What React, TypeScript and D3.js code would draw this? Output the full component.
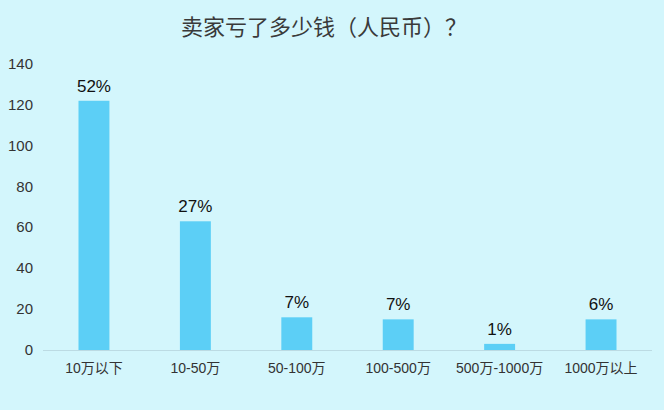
import React, { useEffect, useRef } from "react";
import * as d3 from "d3";

const categories = ["10万以下", "10-50万", "50-100万", "100-500万", "500万-1000万", "1000万以上"];
const counts = [122, 63, 16, 15, 3, 15];
const percentLabels = ["52%", "27%", "7%", "7%", "1%", "6%"];
const yTicks = [0, 20, 40, 60, 80, 100, 120, 140];
const title = "卖家亏了多少钱（人民币）？";

export default function App() {
    const ref = useRef<SVGSVGElement>(null);

    useEffect(() => {
        const svg = d3.select(ref.current);
        svg.selectAll("*").remove();
        const width = 664;
        const height = 410;
        const font = "'Liberation Sans', 'Noto Sans CJK SC', sans-serif";

        svg.append("rect")
            .attr("width", width)
            .attr("height", height)
            .attr("fill", "#d3f6fc");

        const x = d3.scaleBand().domain(categories).range([43, 652]).paddingInner(0.695).paddingOuter(0.35);
        const y = d3.scaleLinear().domain([0, 140]).range([350, 64]);

        svg.append("text")
            .attr("x", 324)
            .attr("y", 35)
            .attr("text-anchor", "middle")
            .attr("font-family", "'Noto Sans CJK SC', sans-serif")
            .attr("font-size", 22)
            .attr("fill", "#3a3a3a")
            .text(title);

        // y tick labels
        svg.append("g")
            .selectAll("text")
            .data(yTicks)
            .enter()
            .append("text")
            .attr("x", 33)
            .attr("y", (d) => y(d) + 5)
            .attr("text-anchor", "end")
            .attr("font-family", font)
            .attr("font-size", 15)
            .attr("fill", "#333")
            .text((d) => d);

        // axis line
        svg.append("line")
            .attr("x1", 43)
            .attr("x2", 652)
            .attr("y1", y(0) + 0.5)
            .attr("y2", y(0) + 0.5)
            .attr("stroke", "#bcdbe3")
            .attr("stroke-width", 1);

        svg.append("g")
            .selectAll("rect")
            .data(counts)
            .enter()
            .append("rect")
            .attr("x", (d, i) => x(categories[i]) as number)
            .attr("y", (d) => y(d))
            .attr("width", x.bandwidth())
            .attr("height", (d) => y(0) - y(d))
            .attr("fill", "#5ccff6");

        svg.append("g")
            .selectAll("text")
            .data(counts)
            .enter()
            .append("text")
            .attr("x", (d, i) => (x(categories[i]) as number) + x.bandwidth() / 2)
            .attr("y", (d) => y(d) - 9)
            .attr("text-anchor", "middle")
            .attr("font-family", font)
            .attr("font-size", 17)
            .attr("fill", "#111")
            .text((d, i) => percentLabels[i]);

        svg.append("g")
            .selectAll("text")
            .data(categories)
            .enter()
            .append("text")
            .attr("x", (d) => (x(d) as number) + x.bandwidth() / 2)
            .attr("y", 373)
            .attr("text-anchor", "middle")
            .attr("font-family", font)
            .attr("font-size", 14)
            .attr("fill", "#333")
            .text((d) => d);
    }, []);

    return (
        <svg
            ref={ref}
            width="664"
            height="410"
            style={{ position: "fixed", top: 0, left: 0, display: "block" }}
        ></svg>
    );
}
